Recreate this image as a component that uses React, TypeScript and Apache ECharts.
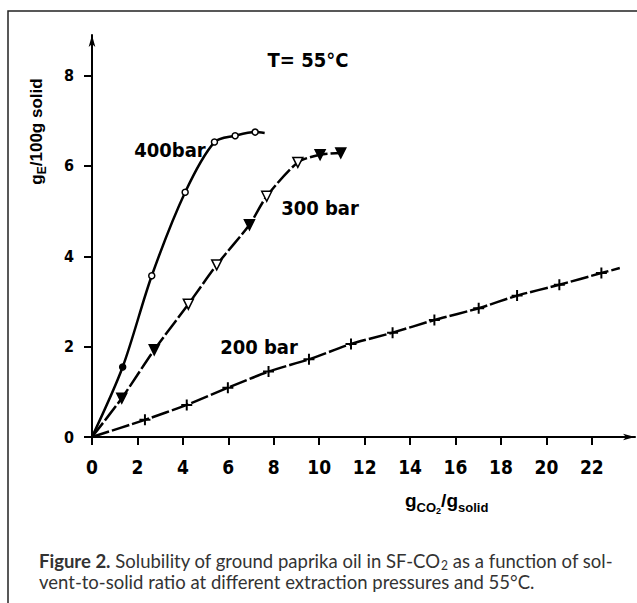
import React, { useEffect, useRef } from "react";
import * as echarts from "echarts";

// ---- data ----
const xTicks = [0, 2, 4, 6, 8, 10, 12, 14, 16, 18, 20, 22];
const yTicks = [0, 2, 4, 6, 8];

// 400 bar (circles)
const x400 = [0, 1.35, 2.63, 4.1, 5.39, 6.3, 7.18, 7.6];
const y400 = [0, 1.55, 3.57, 5.42, 6.53, 6.67, 6.75, 6.73];
const m400 = ["none", "filled", "open", "open", "open", "open", "open", "none"];

// 300 bar (down triangles)
const x300 = [0, 1.31, 2.74, 4.24, 5.49, 6.93, 7.69, 9.06, 10.04, 10.95];
const y300 = [0, 0.86, 1.93, 2.94, 3.81, 4.7, 5.33, 6.08, 6.25, 6.29];
const m300 = ["none", "filled", "filled", "open", "open", "filled", "open", "open", "filled", "filled"];

// 200 bar (plus)
const x200 = [0, 2.33, 4.17, 5.98, 7.77, 9.55, 11.4, 13.23, 15.07, 17.02, 18.71, 20.57, 22.42, 23.23];
const y200 = [0, 0.38, 0.71, 1.09, 1.45, 1.72, 2.06, 2.31, 2.59, 2.85, 3.13, 3.37, 3.63, 3.74];
const m200 = ["none", "plus", "plus", "plus", "plus", "plus", "plus", "plus", "plus", "plus", "plus", "plus", "plus", "none"];

const seriesNames = ["400bar", "300 bar", "200 bar"];
const tempLabel = "T= 55°C";
const yName = ["g", "E", "/100g solid"];
const xName = ["g", "CO", "2", "/", "g", "solid"];
const captionBold = "Figure 2.";
const caption1a = " Solubility of ground paprika oil in SF-CO";
const caption1sub = "2";
const caption1b = " as a function of sol-";
const caption2 = "vent-to-solid ratio at different extraction pressures and 55°C.";

const LBL_FONT = '"DejaVu Sans Condensed", "DejaVu Sans", sans-serif';
const ARIAL = '"Liberation Sans", Arial, sans-serif';
const CAP_FONT = 'Lato, "DejaVu Sans", sans-serif';
const PLUS = "path://M0,4.1H10V5.9H0Z M4.1,0H5.9V10H4.1Z";

function build(xs: number[], ys: number[], ms: string[], shape: string) {
  return xs.map((x, i) => {
    const m = ms[i];
    if (m === "none") return { value: [x, ys[i]], symbol: "none" };
    if (m === "plus")
      return { value: [x, ys[i]], symbol: PLUS, symbolSize: 11, itemStyle: { color: "#000", borderWidth: 0 } };
    return {
      value: [x, ys[i]],
      symbol: shape,
      itemStyle: { color: m === "filled" ? "#000" : "#fff", borderColor: "#000", borderWidth: 1.5 },
    };
  });
}

export default function App() {
  const ref = useRef<HTMLDivElement>(null);
  useEffect(() => {
    if (!ref.current) return;
    const chart = echarts.init(ref.current, undefined, { renderer: "svg" });
    const ctx = document.createElement("canvas").getContext("2d")!;
    const mw = (t: string, size: number, weight: string, fam: string) => {
      ctx.font = `${weight} ${size}px ${fam}`;
      return ctx.measureText(t).width;
    };
    const txt = (text: string, x: number, y: number, size: number, weight: string, fam: string, fill = "#000", align = "left") => ({
      type: "text",
      x,
      y,
      style: { text, fontSize: size, fontWeight: weight, fontFamily: fam, fill, align, verticalAlign: "middle" },
    });

    // y axis name (rotated)
    const yMain = 17, ySub = 12;
    const yw0 = mw(yName[0], yMain, "bold", ARIAL);
    const yw1 = mw(yName[1], ySub, "bold", ARIAL);
    const yw2 = mw(yName[2], yMain, "bold", ARIAL);
    const yTot = yw0 + yw1 + yw2;
    const yGroup = {
      type: "group",
      x: 42,
      y: 131.5 + yTot / 2,
      rotation: Math.PI / 2,
      children: [
        txt(yName[0], 0, -0.35 * yMain, yMain, "bold", ARIAL),
        txt(yName[1], yw0, 4 - 0.35 * ySub, ySub, "bold", ARIAL),
        txt(yName[2], yw0 + yw1, -0.35 * yMain, yMain, "bold", ARIAL),
      ],
    };

    // x axis name
    const xm = 19, xs1 = 13, xs2 = 9, xb = 507;
    const xParts: any[] = [];
    let cx = 405;
    const xSizes = [xm, xs1, xs2, xm, xm, xs1];
    const xBase = [xb, xb + 5, xb + 7, xb, xb, xb + 5];
    xName.forEach((t, i) => {
      xParts.push(txt(t, cx, xBase[i] - 0.35 * xSizes[i], xSizes[i], "bold", ARIAL));
      cx += mw(t, xSizes[i], "bold", ARIAL);
    });

    // caption (horizontally condensed group)
    const cs = 19.5;
    const ss = cs * 0.65;
    const capCol = "#333";
    const capParts: any[] = [];
    let px = 0;
    const b1 = 567, b2 = 588.5;
    capParts.push(txt(captionBold, px, b1 - 0.35 * cs, cs, "bold", CAP_FONT, capCol));
    px += mw(captionBold, cs, "bold", CAP_FONT);
    capParts.push(txt(caption1a, px, b1 - 0.35 * cs, cs, "normal", CAP_FONT, capCol));
    px += mw(caption1a, cs, "normal", CAP_FONT);
    capParts.push(txt(caption1sub, px, b1 + 3 - 0.35 * ss, ss, "normal", CAP_FONT, capCol));
    px += mw(caption1sub, ss, "normal", CAP_FONT);
    capParts.push(txt(caption1b, px, b1 - 0.35 * cs, cs, "normal", CAP_FONT, capCol));
    px += mw(caption1b, cs, "normal", CAP_FONT);
    capParts.push(txt(caption2, 0, b2 - 0.35 * cs, cs, "normal", CAP_FONT, capCol));
    const capScale = 574 / px;
    const capGroup = { type: "group", x: 39, y: 0, scaleX: capScale, scaleY: 1, children: capParts };

    const lineCommon = { color: "#000", width: 2.5 };
    chart.setOption({
      animation: false,
      grid: { left: 92, right: 2, top: 35, bottom: 166, outerBoundsMode: "none", containLabel: false },
      xAxis: {
        type: "value",
        min: 0,
        max: 23.9,
        axisLine: { show: true, onZero: false, symbol: ["none", "arrow"], symbolSize: [5, 12], lineStyle: { color: "#000", width: 2 } },
        axisTick: { show: true, length: 8, customValues: xTicks, lineStyle: { color: "#000", width: 2 } },
        axisLabel: { customValues: xTicks, margin: 20, fontSize: 19, fontFamily: LBL_FONT, fontWeight: "bold", color: "#000" },
        splitLine: { show: false },
      },
      yAxis: {
        type: "value",
        min: 0,
        max: 8.9,
        axisLine: { show: true, onZero: false, symbol: ["none", "arrow"], symbolSize: [5, 12], lineStyle: { color: "#000", width: 2 } },
        axisTick: { show: true, length: 8, customValues: yTicks, lineStyle: { color: "#000", width: 2 } },
        axisLabel: { customValues: yTicks, margin: 18, fontSize: 16, fontFamily: LBL_FONT, fontWeight: "bold", color: "#000" },
        splitLine: { show: false },
      },
      series: [
        {
          name: seriesNames[0],
          type: "line",
          smooth: 0.3,
          symbolSize: 6,
          lineStyle: { ...lineCommon, type: "solid" },
          data: build(x400, y400, m400, "circle"),
        },
        {
          name: seriesNames[1],
          type: "line",
          smooth: 0.25,
          symbolSize: 10,
          symbolRotate: 180,
          lineStyle: { ...lineCommon, type: [18, 3] },
          data: build(x300, y300, m300, "triangle"),
        },
        {
          name: seriesNames[2],
          type: "line",
          smooth: 0.2,
          lineStyle: { ...lineCommon, type: [18, 3] },
          data: build(x200, y200, m200, "none"),
        },
      ],
      graphic: [
        { type: "polyline", shape: { points: [[8, 603], [8, 11], [637, 11]] }, style: { stroke: "#222", lineWidth: 1.5, fill: "none" } },
        txt(tempLabel, 308, 60, 20, "bold", LBL_FONT, "#000", "center"),
        txt(seriesNames[0], 170, 150, 20, "bold", LBL_FONT, "#000", "center"),
        txt(seriesNames[1], 320, 208, 20, "bold", LBL_FONT, "#000", "center"),
        txt(seriesNames[2], 259, 347, 20, "bold", LBL_FONT, "#000", "center"),
        yGroup,
        ...xParts,
        capGroup,
      ],
    });
    return () => chart.dispose();
  }, []);
  return <div ref={ref} style={{ position: "fixed", left: 0, top: 0, width: 637, height: 603, background: "#fff" }} />;
}
